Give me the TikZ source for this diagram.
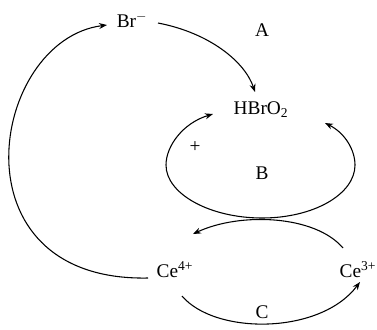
\documentclass[tikz,border=0pt]{standalone}
\usepackage{fontspec}
\setmainfont{Liberation Serif}
\usepackage{tikz}
\usetikzlibrary{arrows.meta,calc}

\begin{document}
\begin{tikzpicture}[x=0.75pt,y=-0.75pt,>={Stealth[length=6pt,width=4.5pt]},line width=0.8pt]
\tikzstyle{spc}=[inner sep=1pt,font=\fontsize{14.5}{17}\selectfont]
\tikzstyle{tag}=[inner sep=1pt,font=\fontsize{14.5}{17}\selectfont]
\useasboundingbox (0,0) rectangle (377,329);
\node[spc] (br) at (132,20) {Br$^{-}$};
\node[spc] (hbro2) at (261,110) {HBrO\textsubscript{2}};
\node[spc] (ce4) at (175,270) {Ce\textsuperscript{4+}};
\node[spc] (ce3) at (358,270) {Ce\textsuperscript{3+}};
\node[tag] (tagA) at (262,30) {A};
\node[tag] (tagB) at (262,173) {B};
\node[tag] (tagC) at (262,312) {C};
\node[tag] (plus) at (195,147) {+};
% Ce4+ back to Br-
\draw[->] ($(ce4)+(-27,8)$) .. controls (-50,282) and (-10,40) .. ($(br)+(-25,5)$);
% Br- to HBrO2
\draw[->] ($(br)+(26,3)$) .. controls (210,33) and (245,62) .. ($(hbro2)+(-6,-18)$);
% loop B round HBrO2
\draw[<->] ($(hbro2)+(64,13)$) .. controls (345,133) and (355,150) .. (355,165)
  .. controls (355,194) and (314,218) .. (262,218)
  .. controls (210,218) and (166,194) .. (166,165)
  .. controls (166,146) and (183,123) .. ($(hbro2)+(-48,4)$);
% Ce3+ to Ce4+
\draw[->] ($(ce3)+(-15,-22)$) .. controls (315,215) and (240,212) .. ($(ce4)+(18,-36)$);
% Ce4+ to Ce3+
\draw[->] ($(ce4)+(7,26)$) .. controls (215,335) and (320,335) .. ($(ce3)+(2,12)$);
\end{tikzpicture}
\end{document}
